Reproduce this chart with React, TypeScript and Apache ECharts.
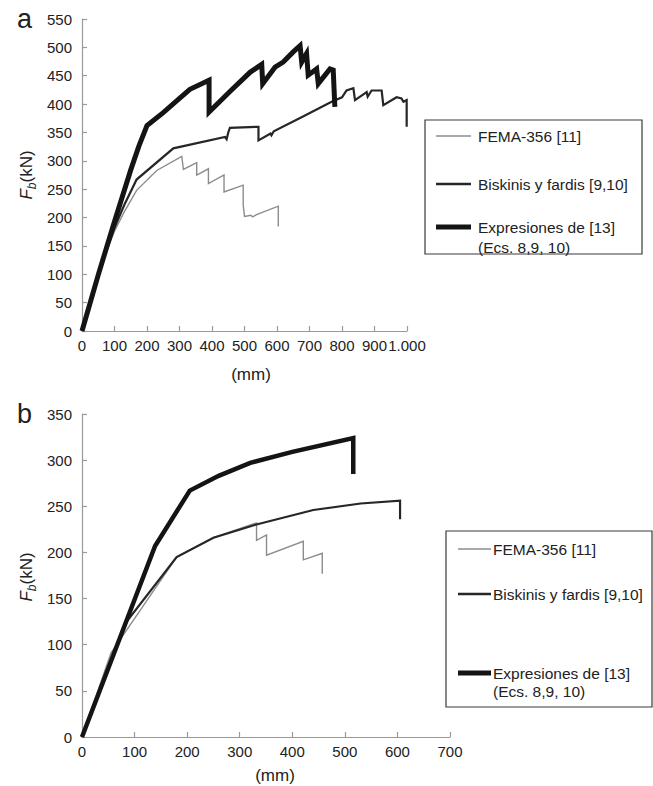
import React, { useEffect, useRef } from "react";
import * as echarts from "echarts";

// ---- Data (panel a) ----
const topFema: number[][] = [
  [0, 0], [30, 60], [60, 118], [100, 176], [130, 210], [168, 248], [230, 283],
  [307, 308], [312, 285], [353, 297], [353, 275], [389, 286], [389, 260], [437, 275],
  [437, 245], [496, 257], [496, 222], [500, 202], [520, 204], [525, 201], [537, 205],
  [604, 220], [604, 184],
];
const topBiskinis: number[][] = [
  [0, 0], [30, 60], [60, 118], [100, 182], [130, 222], [168, 267], [281, 322],
  [440, 342], [445, 338], [450, 350], [455, 358], [543, 360], [543, 336], [580, 348],
  [583, 345], [590, 352], [680, 378], [768, 404], [800, 412], [814, 424], [835, 428],
  [840, 407], [876, 421], [879, 413], [891, 424], [922, 424], [927, 398], [968, 412],
  [983, 410], [989, 404], [999, 407], [999, 360],
];
const topExpresiones: number[][] = [
  [0, 0], [50, 99], [100, 193], [150, 284], [175, 326], [200, 362],
  [250, 385], [300, 410], [332, 426], [391, 442], [391, 386], [460, 425], [517, 456],
  [553, 470], [556, 436], [594, 465], [619, 474], [650, 492], [671, 503], [676, 474],
  [691, 489], [696, 451], [722, 462], [727, 436], [763, 462], [773, 460], [778, 395],
];

// ---- Data (panel b) ----
const botFema: number[][] = [
  [0, 0], [55, 91], [120, 145], [180, 195], [250, 216], [332, 232], [332, 213], [351, 219],
  [351, 197], [421, 212], [421, 192], [457, 199], [457, 177],
];
const botBiskinis: number[][] = [
  [0, 0], [82, 123], [180, 195], [250, 216], [330, 230], [440, 246], [530, 253],
  [605, 256], [605, 236],
];
const botExpresiones: number[][] = [
  [0, 0], [139, 207], [205, 267], [260, 283], [320, 297], [400, 309], [516, 324],
  [516, 285],
];

const seriesNames = ["FEMA-356 [11]", "Biskinis y fardis [9,10]", "Expresiones de [13]"];
const legendSecondLine = "(Ecs. 8,9, 10)";
const xAxisName = "(mm)";

const FONT = "'Liberation Sans', Arial, Helvetica, sans-serif";
const TXT = "#222";
const AXIS = "#9a9a9a";
const C_FEMA = "#8c8c8c";
const C_BISK = "#262626";
const C_EXP = "#141414";

function axisCommon() {
  return {
    axisLine: { show: true, lineStyle: { color: AXIS, width: 1.2 } },
    axisTick: { show: true, inside: true, length: 5, lineStyle: { color: AXIS, width: 1.2 } },
    splitLine: { show: false },
    axisLabel: { color: TXT, fontSize: 15, fontFamily: FONT },
  };
}

function legendGraphic(x: number, y: number, w: number, h: number, lx1: number, lx2: number, tx: number, ys: number[], thick: number) {
  const t = (text: string, yy: number) => ({
    type: "text",
    x: tx,
    y: yy,
    style: { text, fontSize: 15.5, fontFamily: FONT, fill: TXT, align: "left", verticalAlign: "middle" },
  });
  const l = (yy: number, color: string, width: number) => ({
    type: "line",
    shape: { x1: lx1, y1: yy, x2: lx2, y2: yy },
    style: { stroke: color, lineWidth: width },
  });
  return [
    { type: "rect", shape: { x, y, width: w, height: h }, style: { fill: "none", stroke: "#3a3a3a", lineWidth: 1.2 } },
    l(ys[0], C_FEMA, 1.5),
    l(ys[1], C_BISK, 2.4),
    l(ys[2], C_EXP, thick),
    t(seriesNames[0], ys[0]),
    t(seriesNames[1], ys[1]),
    t(seriesNames[2], ys[2]),
    t(legendSecondLine, ys[3]),
  ];
}

function yLabel(x: number, y: number) {
  return {
    type: "text",
    x,
    y,
    rotation: Math.PI / 2,
    style: {
      text: "{f|F}{s|b}{n|(kN)}",
      align: "center",
      verticalAlign: "middle",
      fill: TXT,
      fontFamily: FONT,
      rich: {
        f: { fontStyle: "italic", fontSize: 17, lineHeight: 24, fontFamily: FONT, fill: TXT },
        s: { fontStyle: "italic", fontSize: 12, lineHeight: 12, verticalAlign: "bottom", fontFamily: FONT, fill: TXT },
        n: { fontSize: 17, lineHeight: 24, fontFamily: FONT, fill: TXT },
      },
    },
  };
}

export default function App() {
  const ref = useRef<HTMLDivElement>(null);
  useEffect(() => {
    if (!ref.current) return;
    const chart = echarts.init(ref.current, null, { renderer: "svg" });
    const mk = (name: string, data: number[][], idx: number, color: string, width: number) => ({
      name,
      type: "line",
      xAxisIndex: idx,
      yAxisIndex: idx,
      data,
      symbol: "none",
      showSymbol: false,
      lineStyle: { color, width, join: "miter" },
      itemStyle: { color },
      z: width > 3 ? 3 : 2,
    });
    chart.setOption({
      animation: false,
      backgroundColor: "#fff",
      textStyle: { fontFamily: FONT },
      grid: [
        { left: 82, top: 19, width: 325, height: 312 },
        { left: 82, top: 414, width: 368, height: 323 },
      ],
      xAxis: [
        {
          ...axisCommon(),
          type: "value",
          gridIndex: 0,
          min: 0,
          max: 1000,
          interval: 100,
          axisLabel: {
            color: TXT,
            fontSize: 15,
            fontFamily: FONT,
            margin: 7,
            formatter: (v: number) => (v >= 1000 ? "1.000" : String(v)),
          },
        },
        {
          ...axisCommon(),
          type: "value",
          gridIndex: 1,
          min: 0,
          max: 700,
          interval: 100,
          axisLabel: { color: TXT, fontSize: 15, fontFamily: FONT, margin: 7 },
        },
      ],
      yAxis: [
        {
          ...axisCommon(),
          type: "value",
          gridIndex: 0,
          min: 0,
          max: 550,
          interval: 50,
          axisLabel: { color: TXT, fontSize: 15, fontFamily: FONT, margin: 10 },
        },
        {
          ...axisCommon(),
          type: "value",
          gridIndex: 1,
          min: 0,
          max: 350,
          interval: 50,
          axisLabel: { color: TXT, fontSize: 15, fontFamily: FONT, margin: 10 },
        },
      ],
      series: [
        mk(seriesNames[0], topFema, 0, C_FEMA, 1.4),
        mk(seriesNames[1], topBiskinis, 0, C_BISK, 2.2),
        mk(seriesNames[2], topExpresiones, 0, C_EXP, 5),
        mk(seriesNames[0], botFema, 1, C_FEMA, 1.4),
        mk(seriesNames[1], botBiskinis, 1, C_BISK, 2.2),
        mk(seriesNames[2], botExpresiones, 1, C_EXP, 4.5),
      ],
      graphic: [
        { type: "text", x: 17, y: 19, style: { text: "a", fontSize: 27, fontFamily: FONT, fill: TXT, align: "left", verticalAlign: "middle" } },
        { type: "text", x: 17, y: 414, style: { text: "b", fontSize: 27, fontFamily: FONT, fill: TXT, align: "left", verticalAlign: "middle" } },
        yLabel(26, 175),
        yLabel(26, 577),
        { type: "text", x: 251, y: 374, style: { text: xAxisName, fontSize: 17, fontFamily: FONT, fill: TXT, align: "center", verticalAlign: "middle" } },
        { type: "text", x: 275, y: 775, style: { text: xAxisName, fontSize: 17, fontFamily: FONT, fill: TXT, align: "center", verticalAlign: "middle" } },
        ...legendGraphic(425, 120, 217, 134, 436, 471, 478, [136, 184, 227, 247], 5),
        ...legendGraphic(446, 531, 206, 176, 458, 491, 493, [549, 594, 673, 691], 5),
      ],
    });
    return () => chart.dispose();
  }, []);
  return <div ref={ref} style={{ position: "absolute", left: 0, top: 0, width: 653, height: 786 }} />;
}
